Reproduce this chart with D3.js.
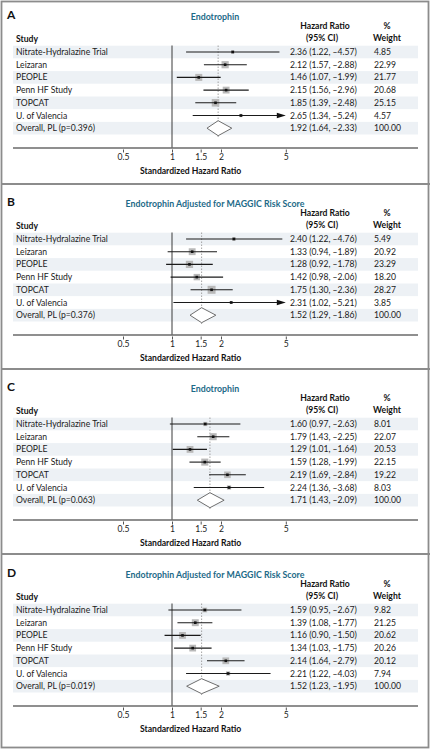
<!DOCTYPE html>
<html><head><meta charset="utf-8">
<script src="https://cdn.jsdelivr.net/npm/d3@7/dist/d3.min.js"></script>
<style>html,body{margin:0;padding:0;background:#fff}svg{display:block}</style>
</head><body>
<script>
const studies = ["Nitrate-Hydralazine Trial","Leizaran","PEOPLE","Penn HF Study","TOPCAT","U. of Valencia"];
const panelLetters = ["A","B","C","D"];
const panelTitles = ["Endotrophin","Endotrophin Adjusted for MAGGIC Risk Score","Endotrophin","Endotrophin Adjusted for MAGGIC Risk Score"];

const hrA = [2.36,2.12,1.46,2.15,1.85,2.65];
const loA = [1.22,1.57,1.07,1.56,1.39,1.34];
const hiA = [4.57,2.88,1.99,2.96,2.48,5.24];
const wA  = [4.85,22.99,21.77,20.68,25.15,4.57];
const overallA = [1.92,1.64,2.33,0.396];

const hrB = [2.40,1.33,1.28,1.42,1.75,2.31];
const loB = [1.22,0.94,0.92,0.98,1.30,1.02];
const hiB = [4.76,1.89,1.78,2.06,2.36,5.21];
const wB  = [5.49,20.92,23.29,18.20,28.27,3.85];
const overallB = [1.52,1.29,1.86,0.376];

const hrC = [1.60,1.79,1.29,1.59,2.19,2.24];
const loC = [0.97,1.43,1.01,1.28,1.69,1.36];
const hiC = [2.63,2.25,1.64,1.99,2.84,3.68];
const wC  = [8.01,22.07,20.53,22.15,19.22,8.03];
const overallC = [1.71,1.43,2.09,0.063];

const hrD = [1.59,1.39,1.16,1.34,2.14,2.21];
const loD = [0.95,1.08,0.90,1.03,1.64,1.22];
const hiD = [2.67,1.77,1.50,1.75,2.79,4.03];
const wD  = [9.82,21.25,20.62,20.26,20.12,7.94];
const overallD = [1.52,1.23,1.95,0.019];

const tickValues = [0.5,1,1.5,2,5];
const tickLabels = ["0.5","1","1.5","2","5"];

const panels = [
  {hr:hrA,lo:loA,hi:hiA,w:wA,ov:overallA},
  {hr:hrB,lo:loB,hi:hiB,w:wB,ov:overallB},
  {hr:hrC,lo:loC,hi:hiC,w:wC,ov:overallC},
  {hr:hrD,lo:loD,hi:hiD,w:wD,ov:overallD}
];

const W = 431, H = 750;
const FONT = "Lato, 'Open Sans', sans-serif";
const svg = d3.select("body").append("svg").attr("width",W).attr("height",H)
  .style("font-family",FONT);

const offsets = [0,187,372,558];
const separators = [184,369,554];

// frame
svg.append("rect").attr("x",1.5).attr("y",1.5).attr("width",427).attr("height",746)
  .attr("fill","none").attr("stroke","#8c8c8c").attr("stroke-width",1.8);
separators.forEach(y=>svg.append("line").attr("x1",1).attr("x2",430).attr("y1",y).attr("y2",y)
  .attr("stroke","#8c8c8c").attr("stroke-width",2));

const x = d3.scaleLog().domain([0.5,5]).range([123,285.8]);
const rowY0 = 52, rowStep = 12.7;
const fmt = d3.format(".2f");
const fs = 8.6;

panels.forEach((p,pi)=>{
  const g = svg.append("g").attr("transform",`translate(0,${offsets[pi]})`);
  const yRow = i => rowY0 + i*rowStep;
  // bands
  [0,2,4,6].forEach(i=>{
    g.append("rect").attr("x",13).attr("width",405).attr("y",yRow(i)-6.3).attr("height",12.6)
      .attr("fill","#edf1f5");
  });
  g.append("text").attr("x",7).attr("y",19).text(panelLetters[pi])
    .attr("font-size",12).attr("font-weight",700).attr("fill","#111");
  g.append("text").attr("x",215).attr("y",20).attr("text-anchor","middle").text(panelTitles[pi])
    .attr("font-size",8.8).attr("font-weight",700).attr("fill","#1d6a88");
  // headers
  const hdr = (t,xx,yy,anchor)=>g.append("text").attr("x",xx).attr("y",yy).attr("text-anchor",anchor)
    .text(t).attr("font-size",fs).attr("font-weight",700).attr("fill","#111");
  hdr("Study",16,42,"start");
  hdr("Hazard Ratio",325,29,"middle");
  hdr("(95% CI)",322,41,"middle");
  hdr("%",387,29,"middle");
  hdr("Weight",387,41,"middle");

  // reference lines
  g.append("line").attr("x1",x(1)).attr("x2",x(1)).attr("y1",45.5).attr("y2",148)
    .attr("stroke","#3a3a3a").attr("stroke-width",1);
  g.append("line").attr("x1",x(p.ov[0])).attr("x2",x(p.ov[0])).attr("y1",45.5).attr("y2",137)
    .attr("stroke","#9a9a9a").attr("stroke-width",0.9).attr("stroke-dasharray","1.5,1.5");

  studies.forEach((s,i)=>{
    const y = yRow(i);
    g.append("text").attr("x",16).attr("y",y+3).text(s).attr("font-size",fs).attr("fill","#1a1a1a");
    const xmax = x.domain()[1];
    const hiC = Math.min(p.hi[i], xmax);
    const side = 1.5*Math.sqrt(p.w[i]);
    g.append("rect").attr("x",x(p.hr[i])-side/2).attr("y",y-side/2).attr("width",side).attr("height",side)
      .attr("fill","#b9b9b9");
    g.append("line").attr("x1",x(p.lo[i])).attr("x2",x(hiC) - (p.hi[i]>xmax?4:0)).attr("y1",y).attr("y2",y)
      .attr("stroke","#1a1a1a").attr("stroke-width",1.1);
    if (p.hi[i] > xmax) {
      const xe = x(xmax);
      g.append("path").attr("d",`M${xe},${y} L${xe-9},${y-2.8} L${xe-9},${y+2.8} Z`).attr("fill","#111");
    }
    g.append("rect").attr("x",x(p.hr[i])-1.3).attr("y",y-1.3).attr("width",2.6).attr("height",2.6)
      .attr("fill","#111");
    g.append("text").attr("x",290).attr("y",y+3)
      .text(`${fmt(p.hr[i])} (${fmt(p.lo[i])}, \u2013${fmt(p.hi[i])})`).attr("font-size",fs).attr("fill","#1a1a1a");
    g.append("text").attr("x",374).attr("y",y+3).text(fmt(p.w[i])).attr("font-size",fs).attr("fill","#1a1a1a");
  });
  // overall
  const yo = yRow(6);
  g.append("text").attr("x",16).attr("y",yo+3).text(`Overall, PL (p=${d3.format(".3f")(p.ov[3])})`)
    .attr("font-size",fs).attr("fill","#1a1a1a");
  const dh = 7.5;
  g.append("path").attr("d",`M${x(p.ov[1])},${yo} L${x(p.ov[0])},${yo-dh} L${x(p.ov[2])},${yo} L${x(p.ov[0])},${yo+dh} Z`)
    .attr("fill","#fff").attr("stroke","#6f6f6f").attr("stroke-width",1);
  g.append("text").attr("x",290).attr("y",yo+3)
    .text(`${fmt(p.ov[0])} (${fmt(p.ov[1])}, \u2013${fmt(p.ov[2])})`).attr("font-size",fs).attr("fill","#1a1a1a");
  g.append("text").attr("x",374).attr("y",yo+3).text("100.00").attr("font-size",fs).attr("fill","#1a1a1a");

  // axis
  g.append("line").attr("x1",13).attr("x2",418).attr("y1",148).attr("y2",148)
    .attr("stroke","#6a6a6a").attr("stroke-width",1.3);
  const ax = g.append("g").attr("transform","translate(0,149.5)")
    .call(d3.axisBottom(x).tickValues(tickValues).tickFormat((d,i)=>tickLabels[i]).tickSize(3).tickPadding(1.5));
  ax.select(".domain").remove();
  ax.selectAll(".tick line").attr("stroke","#555");
  ax.selectAll(".tick text").attr("font-size",fs).attr("font-family",FONT).attr("fill","#1a1a1a");
  g.append("text").attr("x",x(1.3)).attr("y",174).attr("text-anchor","middle").text("Standardized Hazard Ratio")
    .attr("font-size",fs).attr("font-weight",700).attr("fill","#111");
});
</script>
</body></html>
